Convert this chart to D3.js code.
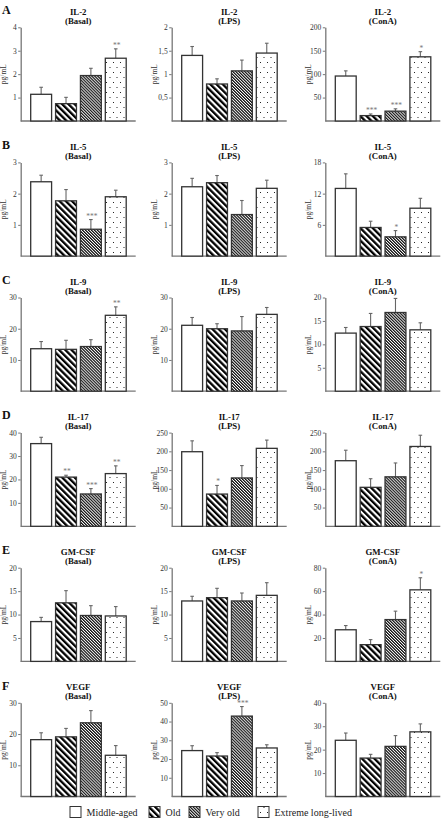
<!DOCTYPE html>
<html>
<head>
<meta charset="utf-8">
<script src="https://cdn.jsdelivr.net/npm/d3@7"></script>
<style>
  html, body { margin: 0; padding: 0; background: #fff; }
  svg { display: block; font-family: "Liberation Serif", "Times New Roman", serif; }
</style>
</head>
<body>
<svg id="chart" width="443" height="818"></svg>
<script>
// ---------- data ----------
const groups = ["Middle-aged", "Old", "Very old", "Extreme long-lived"];
const cytokines = ["IL-2", "IL-5", "IL-9", "IL-17", "GM-CSF", "VEGF"];
const conditions = ["Basal", "LPS", "ConA"];
const panelLetters = ["A", "B", "C", "D", "E", "F"];

// means per cytokine: [Basal, LPS, ConA] x 4 groups
const il2Means   = [[1.14, 0.74, 1.94, 2.68], [1.40, 0.79, 1.07, 1.45], [96, 11.5, 21, 137]];
const il2Errors  = [[0.30, 0.27, 0.31, 0.40], [0.19, 0.11, 0.23, 0.21], [11, 3.5, 5, 11]];
const il2Stars   = [["", "", "", "**"], ["", "", "", ""], ["", "***", "***", "*"]];
const il2Ticks   = [[1, 2, 3, 4], [0.5, 1, 1.5, 2], [50, 100, 150, 200]];

const il5Means   = [[2.38, 1.77, 0.86, 1.90], [2.22, 2.35, 1.33, 2.17], [13.0, 5.5, 3.7, 9.2]];
const il5Errors  = [[0.21, 0.36, 0.31, 0.21], [0.27, 0.23, 0.45, 0.26], [2.8, 1.2, 1.2, 1.9]];
const il5Stars   = [["", "", "***", ""], ["", "", "", ""], ["", "", "*", ""]];
const il5Ticks   = [[1, 2, 3], [1, 2, 3], [6, 12, 18]];

const il9Means   = [[13.6, 13.4, 14.3, 24.3], [21.1, 20.0, 19.3, 24.6], [12.4, 13.8, 16.8, 13.1]];
const il9Errors  = [[2.3, 2.9, 2.2, 2.7], [2.5, 1.6, 4.6, 2.2], [1.2, 2.8, 3.0, 1.5]];
const il9Stars   = [["", "", "", "**"], ["", "", "", ""], ["", "", "", ""]];
const il9Ticks   = [[10, 20, 30], [10, 20, 30], [5, 10, 15, 20]];

const il17Means  = [[35.3, 21.0, 13.8, 22.5], [199, 86, 129, 208], [175, 104, 132, 213]];
const il17Errors = [[2.7, 0.8, 2.3, 3.3], [29, 23, 33, 22], [28, 23, 37, 30]];
const il17Stars  = [["", "**", "***", "**"], ["", "*", "", ""], ["", "", "", ""]];
const il17Ticks  = [[10, 20, 30, 40], [50, 100, 150, 200, 250], [50, 100, 150, 200, 250]];

const gmMeans    = [[8.5, 12.5, 9.8, 9.7], [12.9, 13.6, 12.9, 14.1], [27, 14.3, 35.7, 61.1]];
const gmErrors   = [[0.9, 2.6, 2.1, 2.0], [1.0, 2.0, 1.7, 2.7], [3.6, 4.3, 7.2, 10.3]];
const gmStars    = [["", "", "", ""], ["", "", "", ""], ["", "", "", "*"]];
const gmTicks    = [[5, 10, 15, 20], [5, 10, 15, 20], [20, 40, 60, 80]];

const vegfMeans  = [[18.2, 19.1, 23.6, 13.2], [24.5, 21.6, 42.9, 25.9], [24.0, 16.4, 21.4, 27.6]];
const vegfErrors = [[2.2, 2.7, 3.9, 3.1], [2.6, 1.8, 5.1, 1.7], [3.1, 1.6, 4.6, 3.4]];
const vegfStars  = [["", "", "", ""], ["", "", "***", ""], ["", "", "", ""]];
const vegfTicks  = [[10, 20, 30], [10, 20, 30, 40, 50], [10, 20, 30, 40]];

const allMeans  = [il2Means, il5Means, il9Means, il17Means, gmMeans, vegfMeans];
const allErrors = [il2Errors, il5Errors, il9Errors, il17Errors, gmErrors, vegfErrors];
const allStars  = [il2Stars, il5Stars, il9Stars, il17Stars, gmStars, vegfStars];
const allTicks  = [il2Ticks, il5Ticks, il9Ticks, il17Ticks, gmTicks, vegfTicks];

// ---------- layout ----------
const svg = d3.select("#chart");
const colAxisX = [20.7, 171.7, 325.3];
const rowStep = 135.1;
const plotTop0 = 27.3, plotBottom0 = 121;
const serif = "'Liberation Serif', 'Times New Roman', serif";

// ---------- patterns ----------
const defs = svg.append("defs");
const pOld = defs.append("pattern").attr("id", "pOld").attr("patternUnits", "userSpaceOnUse")
  .attr("width", 4.4).attr("height", 10).attr("patternTransform", "rotate(-45)");
pOld.append("rect").attr("width", 4.4).attr("height", 10).attr("fill", "#fff");
pOld.append("rect").attr("width", 2.3).attr("height", 10).attr("fill", "#000");

const pVery = defs.append("pattern").attr("id", "pVery").attr("patternUnits", "userSpaceOnUse")
  .attr("width", 2.1).attr("height", 10).attr("patternTransform", "rotate(-45)");
pVery.append("rect").attr("width", 2.1).attr("height", 10).attr("fill", "#fff");
pVery.append("rect").attr("width", 1.2).attr("height", 10).attr("fill", "#111");

const pDots = defs.append("pattern").attr("id", "pDots").attr("patternUnits", "userSpaceOnUse")
  .attr("width", 7).attr("height", 10);
pDots.append("rect").attr("width", 7).attr("height", 10).attr("fill", "#fff");
pDots.append("rect").attr("x", 1).attr("y", 2).attr("width", 1).attr("height", 1).attr("fill", "#222");
pDots.append("rect").attr("x", 4.5).attr("y", 7).attr("width", 1).attr("height", 1).attr("fill", "#222");

const groupFill = d3.scaleOrdinal().domain(groups)
  .range(["#fff", "url(#pOld)", "url(#pVery)", "url(#pDots)"]);

const fmt = v => String(v).replace(".", ",");

// ---------- panels ----------
cytokines.forEach((cyto, r) => {
  const yOff = r * rowStep;
  svg.append("text").attr("x", 2).attr("y", yOff + 14)
    .attr("font-size", 12).attr("font-weight", "bold").attr("fill", "#111")
    .text(panelLetters[r]);

  conditions.forEach((cond, c) => {
    const ax = colAxisX[c];
    const means = allMeans[r][c], errs = allErrors[r][c], stars = allStars[r][c], ticks = allTicks[r][c];
    const yMax = ticks[ticks.length - 1];
    const y = d3.scaleLinear().domain([0, yMax]).range([plotBottom0 + yOff, plotTop0 + yOff]);
    const x = d3.scaleBand().domain(groups).range([ax + 10, ax + 105.5]).paddingInner(0.16).paddingOuter(0);
    const g = svg.append("g");

    // title
    const cx = ax + 57.5;
    g.append("text").attr("x", cx).attr("y", yOff + 14.5).attr("text-anchor", "middle")
      .attr("font-size", 8.8).attr("font-weight", "bold").attr("fill", "#111").text(cyto);
    g.append("text").attr("x", cx).attr("y", yOff + 23.5).attr("text-anchor", "middle")
      .attr("font-size", 8.8).attr("font-weight", "bold").attr("fill", "#111").text("(" + cond + ")");

    // y label
    g.append("text").attr("transform", `translate(${ax - 14.5},${(y(0) + y(yMax)) / 2}) rotate(-90)`)
      .attr("text-anchor", "middle").attr("font-size", 7.5).attr("fill", "#333").text("pg/mL");

    // y axis
    const yAxis = d3.axisLeft(y).tickValues(ticks).tickSize(2.5).tickPadding(1.5).tickFormat(fmt).tickSizeOuter(0);
    const ag = g.append("g").attr("transform", `translate(${ax},0)`).call(yAxis)
      .attr("font-family", serif);
    ag.select(".domain").attr("stroke", "#777").attr("stroke-width", 1.3);
    ag.selectAll(".tick line").attr("stroke", "#777").attr("stroke-width", 1);
    ag.selectAll(".tick text").attr("font-size", 7.5).attr("fill", "#333");

    // x baseline
    g.append("line").attr("x1", ax).attr("x2", ax + 115).attr("y1", y(0)).attr("y2", y(0))
      .attr("stroke", "#777").attr("stroke-width", 1.3);

    // error bars
    groups.forEach((grp, i) => {
      const bx = x(grp) + x.bandwidth() / 2;
      const top = y(means[i] + errs[i]);
      g.append("line").attr("x1", bx).attr("x2", bx).attr("y1", y(means[i])).attr("y2", top)
        .attr("stroke", "#666").attr("stroke-width", 1.1);
      g.append("line").attr("x1", bx - 1.8).attr("x2", bx + 1.8).attr("y1", top).attr("y2", top)
        .attr("stroke", "#666").attr("stroke-width", 1.1);
      if (stars[i]) {
        g.append("text").attr("x", bx + 1).attr("y", top - 1)
          .attr("text-anchor", "middle").attr("font-size", 7.5).attr("fill", "#777").text(stars[i]);
      }
    });

    // bars
    g.selectAll("rect.bar").data(groups).join("rect").attr("class", "bar")
      .attr("x", d => x(d)).attr("width", x.bandwidth())
      .attr("y", (d, i) => y(means[i])).attr("height", (d, i) => y(0) - y(means[i]))
      .attr("fill", d => groupFill(d)).attr("stroke", "#333").attr("stroke-width", 1.3);
  });
});

// ---------- legend ----------
const legendBoxX = [70, 149, 189, 258];
const leg = svg.append("g");
groups.forEach((grp, i) => {
  leg.append("rect").attr("x", legendBoxX[i]).attr("y", 806.5).attr("width", 11).attr("height", 11)
    .attr("fill", groupFill(grp)).attr("stroke", "#333").attr("stroke-width", 1);
  leg.append("text").attr("x", legendBoxX[i] + 16.5).attr("y", 815.5)
    .attr("font-size", 10).attr("fill", "#222").text(grp);
});
</script>
</body>
</html>
